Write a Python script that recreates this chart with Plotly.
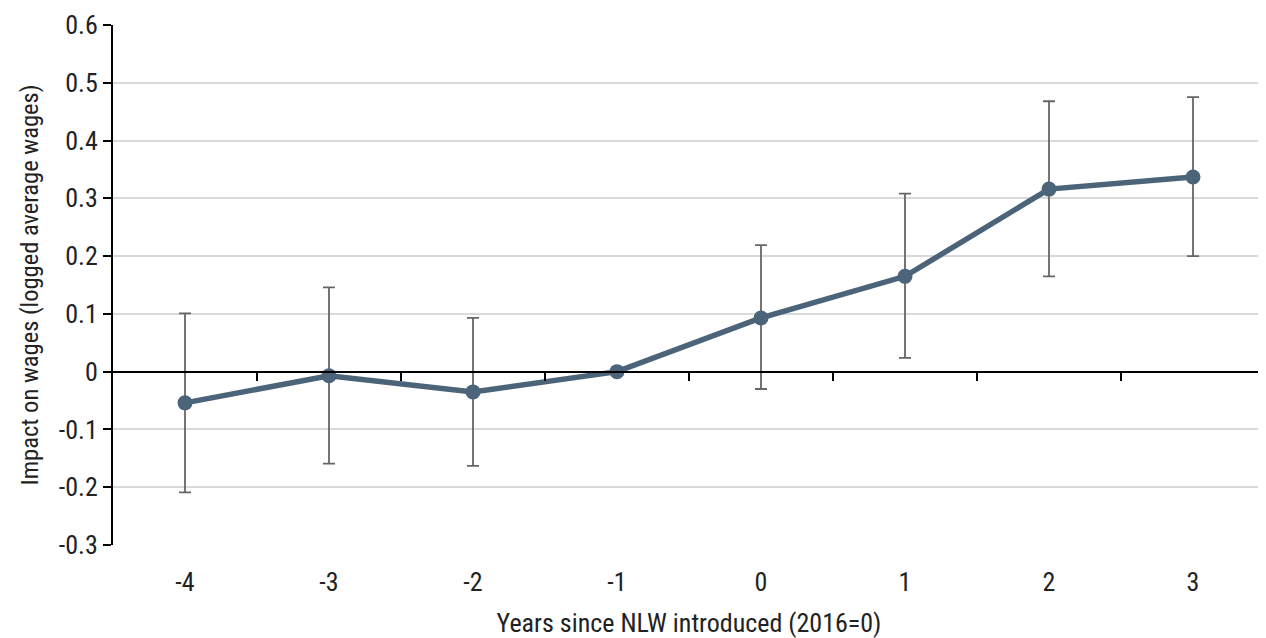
import plotly.graph_objects as go

years = [-4, -3, -2, -1, 0, 1, 2, 3]
year_labels = ["-4", "-3", "-2", "-1", "0", "1", "2", "3"]
impact = [-0.054, -0.007, -0.035, 0.0, 0.093, 0.165, 0.316, 0.337]
upper = [0.101, 0.146, 0.093, 0.0, 0.219, 0.308, 0.468, 0.475]
lower = [-0.209, -0.159, -0.163, 0.0, -0.030, 0.024, 0.165, 0.200]

y_ticks = [0.6, 0.5, 0.4, 0.3, 0.2, 0.1, 0.0, -0.1, -0.2, -0.3]
y_tick_labels = ["0.6", "0.5", "0.4", "0.3", "0.2", "0.1", "0", "-0.1", "-0.2", "-0.3"]
y_range = [-0.3, 0.6]

FONT = "Roboto Condensed, Liberation Sans Narrow, Roboto, sans-serif"

err_plus = [u - v for u, v in zip(upper, impact)]
err_minus = [v - l for v, l in zip(impact, lower)]

fig = go.Figure()
fig.add_trace(go.Scatter(
    x=years, y=impact, mode="lines+markers",
    line=dict(color="#4c6479", width=5.5),
    marker=dict(color="#4c6479", size=15),
    error_y=dict(type="data", symmetric=False, array=err_plus, arrayminus=err_minus,
                 color="#666666", thickness=1.8, width=6),
    showlegend=False, cliponaxis=False,
))

x_range = [years[0] - 0.5, years[-1] + 0.5]
boundaries = [y + 0.5 for y in years[:-1]]

fig.update_layout(
    width=1258, height=630,
    margin=dict(l=105, r=1, t=17, b=93),
    paper_bgcolor="white", plot_bgcolor="white",
    font=dict(family=FONT, size=26, color="#222222"),
    xaxis=dict(range=x_range, tickvals=years, ticktext=year_labels,
               showgrid=False, zeroline=False, showline=False, ticks="",
               automargin=False, tickfont=dict(size=26), ticklabelstandoff=19,
               title=dict(text="Years since NLW introduced (2016=0)", standoff=20,
                          font=dict(size=26))),
    xaxis2=dict(range=x_range, overlaying="x", anchor="free",
                position=(0 - y_range[0]) / (y_range[1] - y_range[0]),
                tickvals=boundaries + [x_range[1] - 0.003], showticklabels=False, ticks="outside",
                ticklen=8, tickwidth=2, tickcolor="black",
                showline=True, linecolor="black", linewidth=2,
                showgrid=False, zeroline=False, automargin=False),
    yaxis=dict(range=y_range, tickvals=y_ticks, ticktext=y_tick_labels,
               showgrid=True, gridcolor="#d9d9d9", gridwidth=1.5,
               zeroline=False, showline=True, linecolor="black", linewidth=2,
               ticks="outside", ticklen=8, tickwidth=2, tickcolor="black",
               automargin=False, tickfont=dict(size=26),
               title=dict(text="Impact on wages (logged average wages)", standoff=13,
                          font=dict(size=24.5))),
)
fig.add_trace(go.Scatter(x=[years[0]], y=[0], xaxis="x2", mode="markers",
                         marker=dict(opacity=0), showlegend=False, hoverinfo="skip"))

fig.write_html("out.html")
